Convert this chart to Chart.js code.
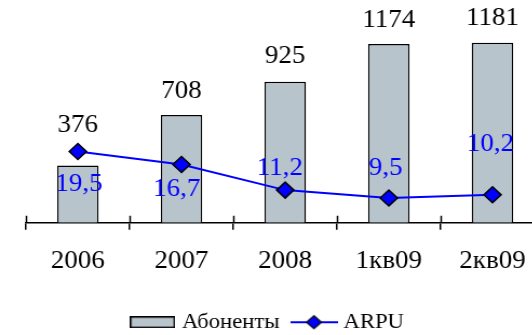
<!DOCTYPE html>
<html>
<head>
<meta charset="utf-8">
<script src="https://cdn.jsdelivr.net/npm/chart.js@4.4.0/dist/chart.umd.min.js"></script>
<style>
  html, body { margin: 0; padding: 0; background: #fff; overflow: hidden; }
  /* the chart is drawn a bit narrow and stretched sideways */
  #wrap { width: 504px; height: 335px; transform: scaleX(1.08); transform-origin: 0 0; }
</style>
</head>
<body>
<div id="wrap"><canvas id="subsChart"></canvas></div>
<script>
const periods = ['2006', '2007', '2008', '1кв09', '2кв09'];
const subscribers = [376, 708, 925, 1174, 1181];
const arpu = [19.5, 16.7, 11.2, 9.5, 10.2];

// label nudges from the mark, [dx, dy]
const subsLabelShift = [[0, -33], [0, -17], [0, -19], [0, -17], [0, -18]];
const arpuLabelShift = [[1, 40], [-4.5, 31], [-5, -15], [-3, -23], [-2, -44]];

const barFill = '#b8c4cc';
const lineBlue = '#0000ff';
const serif = '"Liberation Serif", "Times New Roman", serif';

// legend keys: a flat box for the bars, a line with a diamond for ARPU
function makeBarKey() {
  const c = document.createElement('canvas');
  c.width = 42; c.height = 12;
  const g = c.getContext('2d');
  g.fillStyle = barFill;
  g.fillRect(0, 0, 42, 12);
  g.strokeStyle = '#000';
  g.lineWidth = 1.5;
  g.strokeRect(0.75, 0.75, 40.5, 10.5);
  return c;
}

function makeLineKey() {
  const c = document.createElement('canvas');
  c.width = 44; c.height = 16;
  const g = c.getContext('2d');
  g.strokeStyle = lineBlue;
  g.lineWidth = 2;
  g.beginPath(); g.moveTo(0, 8); g.lineTo(44, 8); g.stroke();
  g.beginPath();
  g.moveTo(22, 1.5); g.lineTo(29, 8); g.lineTo(22, 14.5); g.lineTo(15, 8); g.closePath();
  g.fillStyle = lineBlue; g.fill();
  g.strokeStyle = '#000'; g.lineWidth = 1.2; g.stroke();
  return c;
}

const legendPad = 15;

// put the legend where it sits under the axis labels
const placeLegend = {
  id: 'placeLegend',
  afterLayout(chart) {
    const lg = chart.legend;
    const w = lg.right - lg.left;
    const h = lg.bottom - lg.top;
    lg.left = 124.4 - legendPad;
    lg.right = lg.left + w;
    lg.top = 311.7 - legendPad;
    lg.bottom = lg.top + h;
  }
};

// short upper halves of the category ticks, crossing the axis line
const crossTicks = {
  id: 'crossTicks',
  afterDraw(chart) {
    const x = chart.scales.x;
    const step = x.getPixelForValue(1) - x.getPixelForValue(0);
    const ctx = chart.ctx;
    ctx.save();
    ctx.strokeStyle = '#000';
    ctx.lineWidth = 1.5;
    ctx.beginPath();
    for (let i = 0; i <= periods.length; i++) {
      const px = Math.round(x.getPixelForValue(0) + (i - 0.5) * step) + 0.5;
      ctx.moveTo(px, x.top);
      ctx.lineTo(px, x.top - 7);
    }
    ctx.stroke();
    ctx.restore();
  }
};

// values printed next to bars and points
const valueLabels = {
  id: 'valueLabels',
  afterDatasetsDraw(chart) {
    const ctx = chart.ctx;
    ctx.save();
    ctx.font = '25px ' + serif;
    ctx.textAlign = 'center';
    ctx.textBaseline = 'alphabetic';
    ctx.fillStyle = '#000';
    chart.getDatasetMeta(0).data.forEach((bar, i) => {
      ctx.fillText(String(subscribers[i]), bar.x + subsLabelShift[i][0], bar.y + subsLabelShift[i][1]);
    });
    ctx.fillStyle = lineBlue;
    chart.getDatasetMeta(1).data.forEach((pt, i) => {
      const txt = arpu[i].toFixed(1).replace('.', ',');
      ctx.fillText(txt, pt.x + arpuLabelShift[i][0], pt.y + arpuLabelShift[i][1]);
    });
    ctx.restore();
  }
};

const barKey = makeBarKey();
const lineKey = makeLineKey();

new Chart(document.getElementById('subsChart'), {
  type: 'bar',
  data: {
    labels: periods,
    datasets: [
      {
        label: 'Абоненты',
        data: subscribers,
        yAxisID: 'y',
        backgroundColor: barFill,
        borderColor: '#000',
        borderWidth: 1.5,
        barPercentage: 0.4,
        categoryPercentage: 1,
        order: 2
      },
      {
        type: 'line',
        label: 'ARPU',
        data: arpu,
        yAxisID: 'y1',
        borderColor: lineBlue,
        borderWidth: 2,
        tension: 0,
        pointStyle: 'rectRot',
        pointRadius: 8,
        pointBackgroundColor: lineBlue,
        pointBorderColor: '#000',
        pointBorderWidth: 1.5,
        order: 1
      }
    ]
  },
  options: {
    responsive: true,
    maintainAspectRatio: false,
    animation: false,
    layout: { autoPadding: false, padding: { left: 24.1, top: 9.5, right: 0, bottom: 0 } },
    scales: {
      x: {
        offset: true,
        grid: {
          offset: true,
          drawOnChartArea: false,
          drawTicks: true,
          tickLength: 7,
          color: '#000',
          lineWidth: 1.5
        },
        border: { display: true, color: '#000', width: 1.5 },
        ticks: {
          color: '#000',
          font: { family: serif, size: 25 },
          padding: 17,
          maxRotation: 0,
          autoSkip: false
        },
        afterFit(scale) { scale.height = 335 - 222.7 - (21 + legendPad + 10); }
      },
      y: { display: false, min: 0, max: 1400 },
      y1: { display: false, min: 4.2, max: 50 }
    },
    plugins: {
      tooltip: { enabled: false },
      legend: {
        position: 'bottom',
        align: 'start',
        labels: {
          usePointStyle: true,
          pointStyleWidth: 33.6,
          padding: legendPad,
          color: '#000',
          font: { family: serif, size: 21 },
          generateLabels: () => [
            { text: 'Абоненты', pointStyle: barKey, fillStyle: barFill, strokeStyle: '#000', lineWidth: 0, hidden: false, datasetIndex: 0 },
            { text: 'ARPU', pointStyle: lineKey, fillStyle: lineBlue, strokeStyle: lineBlue, lineWidth: 0, hidden: false, datasetIndex: 1 }
          ]
        }
      }
    }
  },
  plugins: [placeLegend, crossTicks, valueLabels]
});
</script>
</body>
</html>
